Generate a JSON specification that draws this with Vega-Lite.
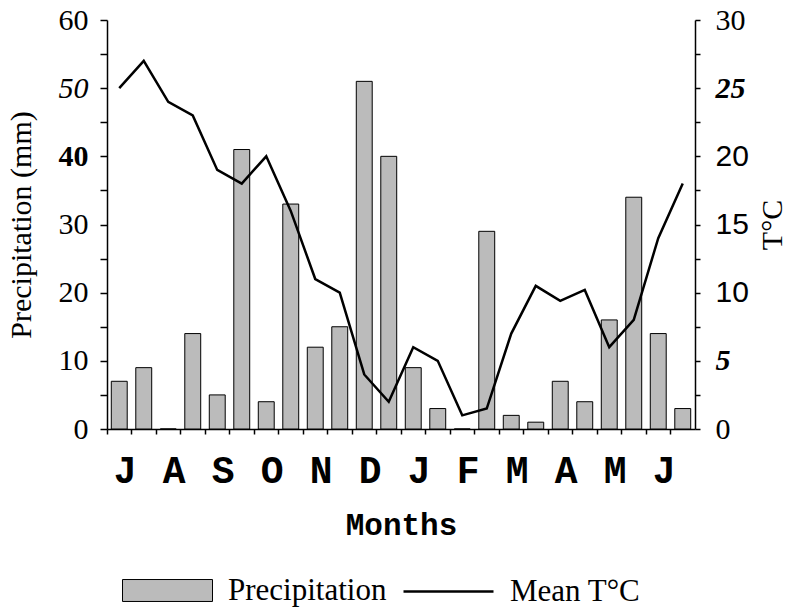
{
  "$schema": "https://vega.github.io/schema/vega-lite/v6.json",
  "width": 588,
  "height": 409,
  "autosize": {"type": "none"},
  "padding": {"left": 107, "top": 20, "right": 97, "bottom": 186},
  "background": "white",
  "config": {
    "view": {"stroke": null},
    "axis": {"domainColor": "black", "tickColor": "black", "labelColor": "black", "titleColor": "black", "grid": false, "domainWidth": 1.5, "tickWidth": 1.5},
    "legend": {"labelFont": "Liberation Serif", "labelFontSize": 31, "labelColor": "black", "labelOffset": 15, "title": null, "orient": "none", "direction": "horizontal", "labelLimit": 400}
  },
  "data": {
    "values": [
      {"period": "Jul1", "precip": 7, "temp": 25},
      {"period": "Jul2", "precip": 9, "temp": 27},
      {"period": "Aug1", "precip": 0, "temp": 24},
      {"period": "Aug2", "precip": 14, "temp": 23},
      {"period": "Sep1", "precip": 5, "temp": 19},
      {"period": "Sep2", "precip": 41, "temp": 18},
      {"period": "Oct1", "precip": 4, "temp": 20},
      {"period": "Oct2", "precip": 33, "temp": 16},
      {"period": "Nov1", "precip": 12, "temp": 11},
      {"period": "Nov2", "precip": 15, "temp": 10},
      {"period": "Dec1", "precip": 51, "temp": 4},
      {"period": "Dec2", "precip": 40, "temp": 2},
      {"period": "Jan1", "precip": 9, "temp": 6},
      {"period": "Jan2", "precip": 3, "temp": 5},
      {"period": "Feb1", "precip": 0, "temp": 1},
      {"period": "Feb2", "precip": 29, "temp": 1.5},
      {"period": "Mar1", "precip": 2, "temp": 7},
      {"period": "Mar2", "precip": 1, "temp": 10.5},
      {"period": "Apr1", "precip": 7, "temp": 9.4},
      {"period": "Apr2", "precip": 4, "temp": 10.2},
      {"period": "May1", "precip": 16, "temp": 6},
      {"period": "May2", "precip": 34, "temp": 8},
      {"period": "Jun1", "precip": 14, "temp": 14},
      {"period": "Jun2", "precip": 3, "temp": 18}
    ]
  },
  "layer": [
    {
      "mark": {"type": "bar", "width": {"band": 0.65}, "stroke": "black", "strokeWidth": 1},
      "encoding": {
        "x": {
          "field": "period", "type": "nominal", "sort": null,
          "scale": {"paddingInner": 0, "paddingOuter": 0},
          "axis": {
            "bandPosition": 0,
            "labelExpr": "slice(datum.label, 3) === '1' ? upper(slice(datum.label, 0, 1)) : ''",
            "labelOffset": 6,
            "labelAngle": 0,
            "labelFont": "Liberation Mono",
            "labelFontWeight": "bold",
            "labelFontSize": 38,
            "labelPadding": 18,
            "labelOverlap": false,
            "labelBound": false,
            "tickSize": 5,
            "title": "Months",
            "titleFont": "Liberation Mono",
            "titleFontSize": 31,
            "titleFontWeight": "bold",
            "titlePadding": 20
          }
        },
        "y": {
          "field": "precip", "type": "quantitative",
          "scale": {"domain": [0, 60], "nice": false},
          "axis": {
            "values": [0, 5, 10, 15, 20, 25, 30, 35, 40, 45, 50, 55, 60],
            "labelExpr": "datum.value % 10 === 0 ? datum.label : ''",
            "tickSize": 7,
            "labelFont": "Liberation Serif",
            "labelFontSize": 30,
            "labelPadding": 12,
            "labelOverlap": false,
            "labelFlush": false,
            "labelFontStyle": {"condition": {"test": "datum.value === 50", "value": "italic"}, "value": "normal"},
            "labelFontWeight": {"condition": {"test": "datum.value === 40", "value": "bold"}, "value": "normal"},
            "title": "Precipitation (mm)",
            "titleFont": "Liberation Serif",
            "titleFontSize": 30,
            "titleFontWeight": "normal",
            "titlePadding": 22
          }
        },
        "fill": {
          "datum": "Precipitation", "type": "nominal",
          "scale": {"range": ["#bbbbbb"]},
          "legend": {
            "legendX": 15,
            "legendY": 525,
            "symbolType": "M-1,-0.244H1V0.244H-1Z",
            "symbolSize": 8100,
            "symbolStrokeColor": "black",
            "symbolStrokeWidth": 1,
            "symbolOpacity": 1
          }
        }
      }
    },
    {
      "mark": {"type": "line", "strokeWidth": 2.5},
      "encoding": {
        "x": {"field": "period", "type": "nominal", "sort": null},
        "y": {
          "field": "temp", "type": "quantitative",
          "scale": {"domain": [0, 30], "nice": false},
          "axis": {
            "orient": "right",
            "values": [0, 2.5, 5, 7.5, 10, 12.5, 15, 17.5, 20, 22.5, 25, 27.5, 30],
            "labelExpr": "datum.value % 5 === 0 ? datum.label : ''",
            "tickSize": 5,
            "labelFont": {"condition": {"test": "datum.value === 10 || datum.value === 15 || datum.value === 20", "value": "Liberation Sans"}, "value": "Liberation Serif"},
            "labelFontSize": 30,
            "labelPadding": 15,
            "labelOverlap": false,
            "labelFlush": false,
            "labelFontStyle": {"condition": {"test": "datum.value === 25 || datum.value === 5", "value": "italic"}, "value": "normal"},
            "labelFontWeight": {"condition": {"test": "datum.value === 25 || datum.value === 5", "value": "bold"}, "value": "normal"},
            "title": "T°C",
            "titleAngle": 270,
            "titleFont": "Liberation Serif",
            "titleFontSize": 30,
            "titleFontWeight": "normal",
            "titlePadding": 39
          }
        },
        "stroke": {
          "datum": "Mean T°C", "type": "nominal",
          "scale": {"range": ["black"]},
          "legend": {
            "legendX": 295,
            "legendY": 525,
            "symbolType": "M-1,0H1",
            "symbolSize": 8100,
            "symbolStrokeWidth": 2.5,
            "symbolFillColor": "transparent"
          }
        }
      }
    }
  ],
  "resolve": {"scale": {"y": "independent"}}
}
